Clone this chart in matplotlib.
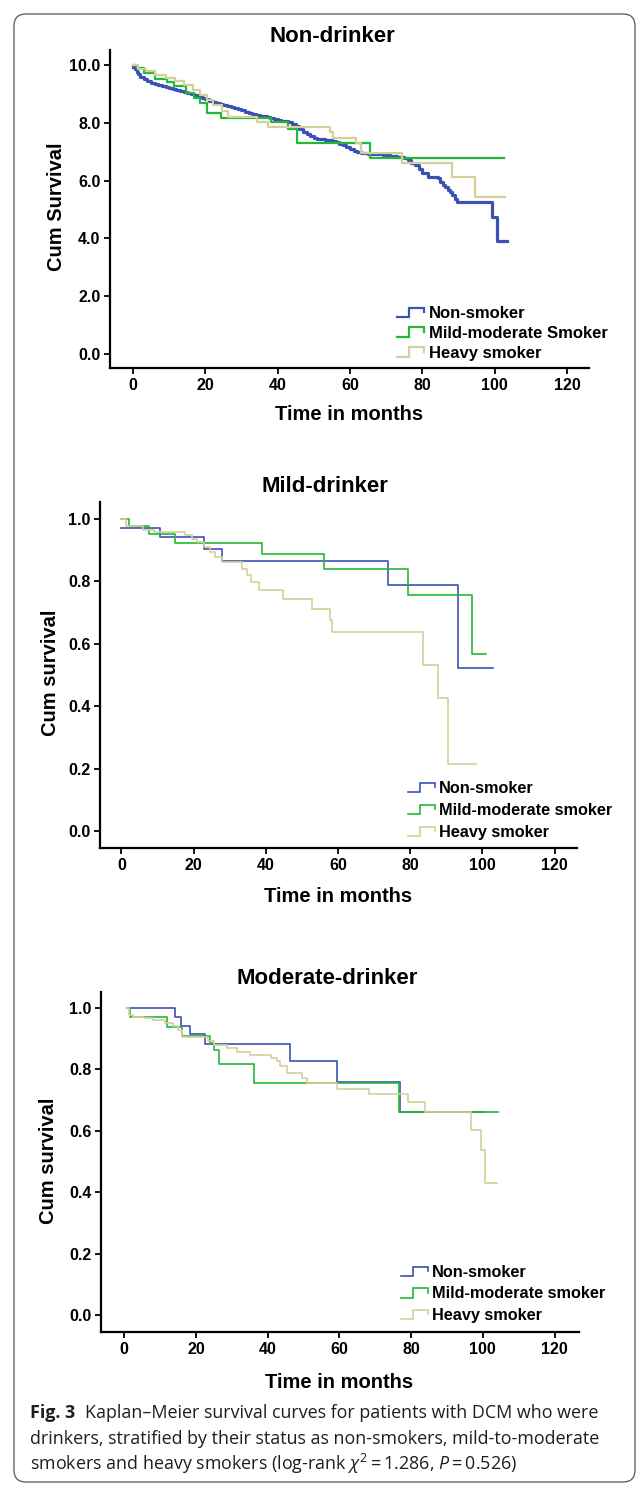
import numpy as np
import matplotlib
matplotlib.use('Agg')
from matplotlib import pyplot as plt
from matplotlib.lines import Line2D
from matplotlib.legend_handler import HandlerBase
from matplotlib.patches import FancyBboxPatch
from matplotlib.transforms import IdentityTransform

plt.rcParams['font.family'] = ['Liberation Sans', 'DejaVu Sans']
plt.rcParams['mathtext.fontset'] = 'custom'
plt.rcParams['mathtext.rm'] = 'Open Sans'
plt.rcParams['mathtext.it'] = 'Open Sans:italic'

W, H = 637, 1486

# ---- data ----
groups = ['Non-smoker', 'Mild-moderate Smoker', 'Heavy smoker']
groups_lc = ['Non-smoker', 'Mild-moderate smoker', 'Heavy smoker']

# Non-drinker
nd_non_t = [0, 0.5, 1, 1.5, 2, 3, 4, 5, 6, 7, 8, 9, 10, 11, 12, 13, 14, 15, 16, 17, 18, 19,
            20, 21, 22, 23, 24, 25, 26, 27, 28, 29, 30, 31, 32, 33, 34, 35, 36, 37, 38, 39,
            40, 41, 42, 43, 44, 45, 46, 47, 48, 49, 50, 51, 53, 55, 56, 57, 58, 59, 60, 61,
            62, 63, 65, 67, 69, 71, 73, 75, 76, 77, 78, 79, 80, 81.6, 82.5, 84.4, 84.9, 85.8,
            86.3, 87.0, 87.7, 88.1, 89.0, 89.5, 99.2, 100.6, 103.3]
nd_non_s = [9.94, 9.85, 9.77, 9.68, 9.6, 9.5, 9.44, 9.39, 9.35, 9.31, 9.27, 9.23, 9.19, 9.16,
            9.12, 9.09, 9.06, 9.03, 9.0, 8.96, 8.92, 8.87, 8.82, 8.77, 8.72, 8.68, 8.64, 8.61,
            8.58, 8.55, 8.51, 8.47, 8.43, 8.39, 8.35, 8.31, 8.28, 8.25, 8.23, 8.21, 8.18, 8.15,
            8.11, 8.08, 8.05, 8.02, 7.96, 7.88, 7.77, 7.68, 7.6, 7.53, 7.47, 7.44, 7.42, 7.38,
            7.33, 7.27, 7.22, 7.16, 7.1, 7.04, 6.99, 6.95, 6.93, 6.91, 6.89, 6.86, 6.83, 6.8,
            6.71, 6.62, 6.54, 6.4, 6.25, 6.14, 6.11, 6.08, 5.97, 5.85, 5.77, 5.68, 5.6, 5.5,
            5.38, 5.27, 4.75, 3.93, 3.93]
nd_mild_t = [0, 1.0, 3.0, 6.0, 9.4, 11.4, 14.6, 17.0, 18.5, 20.4, 24.3, 38.3, 43.0, 45.3, 65.5, 102.6]
nd_mild_s = [10.0, 9.89, 9.71, 9.52, 9.4, 9.27, 9.04, 8.87, 8.7, 8.33, 8.18, 8.04, 7.79, 7.29, 6.78, 6.78]
nd_heavy_t = [0, 1.5, 3.5, 6.0, 9.0, 11.5, 14.0, 16.5, 18.5, 20.5, 22.0, 24.5, 26.4, 34.2, 37.4,
              54.5, 55.4, 61.8, 63.0, 74.5, 88.1, 94.5, 102.8]
nd_heavy_s = [10.0, 9.88, 9.78, 9.65, 9.55, 9.45, 9.3, 9.12, 8.98, 8.8, 8.62, 8.4, 8.21, 8.04, 7.87,
              7.7, 7.46, 7.29, 6.94, 6.6, 6.11, 5.44, 5.44]

# Mild-drinker
md_non_t = [0, 10.8, 22.8, 27.9, 73.9, 93.3, 102.8]
md_non_s = [0.971, 0.942, 0.905, 0.865, 0.788, 0.522, 0.522]
md_mild_t = [0, 2.0, 7.5, 14.9, 38.9, 56.0, 79.5, 97.0, 101.1]
md_mild_s = [1.0, 0.977, 0.951, 0.924, 0.889, 0.841, 0.756, 0.567, 0.567]
md_heavy_t = [0, 1.2, 6.0, 9.0, 17.5, 19.5, 21.0, 23.0, 24.5, 26.0, 27.8, 33.3, 34.8, 35.8, 38.0,
              44.8, 52.9, 57.8, 58.3, 83.6, 87.7, 90.5, 98.2]
md_heavy_s = [1.0, 0.978, 0.965, 0.958, 0.948, 0.937, 0.926, 0.91, 0.894, 0.878, 0.862, 0.841, 0.82,
              0.798, 0.772, 0.745, 0.713, 0.676, 0.638, 0.532, 0.427, 0.215, 0.215]

# Moderate-drinker
mo_non_t = [0.8, 14.2, 15.8, 18.4, 22.6, 46.3, 59.4, 76.9, 100.6]
mo_non_s = [1.0, 0.972, 0.943, 0.915, 0.882, 0.828, 0.758, 0.663, 0.663]
mo_mild_t = [0.8, 1.5, 11.9, 16.1, 24.0, 25.0, 26.4, 36.1, 76.6, 104.2]
mo_mild_s = [1.0, 0.97, 0.939, 0.909, 0.886, 0.864, 0.818, 0.756, 0.663, 0.663]
mo_heavy_t = [0.8, 1.3, 2.5, 5.5, 8.0, 11.5, 13.5, 15.0, 16.0, 23.5, 25.0, 28.6, 31.4, 35.0, 40.8,
              42.6, 43.5, 45.5, 49.5, 51.0, 59.2, 68.3, 79.2, 83.8, 96.8, 99.4, 100.7, 104.0]
mo_heavy_s = [1.0, 0.977, 0.972, 0.966, 0.961, 0.95, 0.94, 0.93, 0.907, 0.891, 0.88, 0.869, 0.858,
              0.847, 0.837, 0.826, 0.81, 0.788, 0.772, 0.756, 0.736, 0.721, 0.693, 0.663, 0.602,
              0.537, 0.43, 0.43]

colors = ['#3B52B4', '#22B83A', '#D5CF9A']


class StepHandler(HandlerBase):
    def __init__(self, lw):
        super().__init__()
        self.lw = lw

    def create_artists(self, legend, orig_handle, xdescent, ydescent, width, height, fontsize, trans):
        x0 = -xdescent
        xs = [x0, x0 + 0.42 * width, x0 + 0.42 * width, x0 + 0.97 * width, x0 + 0.97 * width]
        ys = [-ydescent + 0.05 * height, -ydescent + 0.05 * height, -ydescent + 0.9 * height,
              -ydescent + 0.9 * height, -ydescent + 0.5 * height]
        ln = Line2D(xs, ys, color=orig_handle.get_color(), linewidth=self.lw,
                    solid_joinstyle='miter', transform=trans)
        return [ln]


def px_rect(l, t, r, b):
    return [l / W, 1 - b / H, (r - l) / W, (b - t) / H]


fig = plt.figure(figsize=(W / 100, H / 100), dpi=100)

border = FancyBboxPatch((14, 4), 621, 1468, boxstyle='round,pad=0,rounding_size=12',
                        transform=IdentityTransform(), facecolor='none', edgecolor='#555555',
                        linewidth=0.9)
fig.patches.append(border)

panels = [
    dict(rect=(110, 50, 589, 368), xlim=(-6.36, 126.1), ylim=(-0.48, 10.52),
         yticks=[0, 2, 4, 6, 8, 10], title='Non-drinker', title_xy=(332, 37),
         ylabel='Cum Survival', ylab_xy=(57, 207), xlab_xy=(349, 415),
         series=[(nd_non_t, nd_non_s), (nd_mild_t, nd_mild_s), (nd_heavy_t, nd_heavy_s)],
         lws=[2.3, 1.6, 1.6], labels=groups, leg_xy=(397, 306), leg_fs=12, leg_sp=0.29,
         leg_lw=1.6),
    dict(rect=(100, 502, 577, 848), xlim=(-5.95, 126.2), ylim=(-0.053, 1.054),
         yticks=[0, 0.2, 0.4, 0.6, 0.8, 1.0], title='Mild-drinker', title_xy=(325, 487),
         ylabel='Cum survival', ylab_xy=(51, 673), xlab_xy=(338, 897),
         series=[(md_non_t, md_non_s), (md_mild_t, md_mild_s), (md_heavy_t, md_heavy_s)],
         lws=[1.2, 1.2, 1.2], labels=groups_lc, leg_xy=(408, 781), leg_fs=11.7, leg_sp=0.43,
         leg_lw=1.2),
    dict(rect=(101, 992, 579, 1332), xlim=(-6.46, 126.8), ylim=(-0.054, 1.052),
         yticks=[0, 0.2, 0.4, 0.6, 0.8, 1.0], title='Moderate-drinker', title_xy=(327, 978),
         ylabel='Cum survival', ylab_xy=(49, 1161), xlab_xy=(339, 1382),
         series=[(mo_non_t, mo_non_s), (mo_mild_t, mo_mild_s), (mo_heavy_t, mo_heavy_s)],
         lws=[1.2, 1.2, 1.2], labels=groups_lc, leg_xy=(401, 1265), leg_fs=11.7, leg_sp=0.40,
         leg_lw=1.2),
]

for p in panels:
    ax = fig.add_axes(px_rect(*p['rect']))
    handles = []
    for (t, s), c, lw, lab in zip(p['series'], colors, p['lws'], p['labels']):
        h, = ax.plot(t, s, drawstyle='steps-post', color=c, linewidth=lw, label=lab)
        handles.append(h)
    ax.set_xlim(*p['xlim'])
    ax.set_ylim(*p['ylim'])
    ax.set_xticks([0, 20, 40, 60, 80, 100, 120])
    ax.set_yticks(p['yticks'])
    ax.set_yticklabels(['%.1f' % v for v in p['yticks']])
    for sp in ['top', 'right']:
        ax.spines[sp].set_visible(False)
    for sp in ['left', 'bottom']:
        ax.spines[sp].set_linewidth(1.6)
    ax.tick_params(direction='out', length=4, width=1.3, labelsize=11.5, pad=3)
    for lbl in ax.get_xticklabels() + ax.get_yticklabels():
        lbl.set_fontweight('bold')
    ax.patch.set_alpha(0)

    leg = ax.legend(handles=handles, loc='upper left',
                    bbox_to_anchor=(p['leg_xy'][0] / W, 1 - p['leg_xy'][1] / H),
                    bbox_transform=fig.transFigure, frameon=False, borderpad=0,
                    borderaxespad=0, handlelength=1.7, handletextpad=0.2,
                    labelspacing=p['leg_sp'], handler_map={Line2D: StepHandler(p['leg_lw'])},
                    prop={'weight': 'bold', 'size': p['leg_fs']})

    fig.text(p['title_xy'][0] / W, 1 - p['title_xy'][1] / H, p['title'], ha='center',
             va='center', fontsize=16, fontweight='bold')
    fig.text(p['ylab_xy'][0] / W, 1 - p['ylab_xy'][1] / H, p['ylabel'], ha='center',
             va='center', rotation=90, fontsize=14.5, fontweight='bold')
    fig.text(p['xlab_xy'][0] / W, 1 - p['xlab_xy'][1] / H, 'Time in months', ha='center',
             va='center', fontsize=14.5, fontweight='bold')

# caption
cap_fs = 12.9
cap_font = 'Open Sans'
cap_col = '#1e1e1e'
t1 = fig.text(30 / W, 1 - 1418 / H, 'Fig. 3', fontsize=cap_fs, fontweight='bold',
              family=cap_font, va='baseline', color=cap_col)
plt.annotate('Kaplan\u2013Meier survival curves for patients with DCM who were',
             xy=(1, 0), xycoords=t1, xytext=(7, 0), textcoords='offset points',
             va='bottom', ha='left', fontsize=cap_fs, family=cap_font, color=cap_col)
fig.text(30 / W, 1 - 1444 / H,
         'drinkers, stratified by their status as non-smokers, mild-to-moderate',
         fontsize=cap_fs, family=cap_font, va='baseline', color=cap_col)
fig.text(30 / W, 1 - 1470 / H,
         'smokers and heavy smokers (log-rank $\\chi^2 = 1.286$, $P = 0.526$)',
         fontsize=cap_fs, family=cap_font, va='baseline', color=cap_col)

fig.savefig('out.png', dpi=100)
